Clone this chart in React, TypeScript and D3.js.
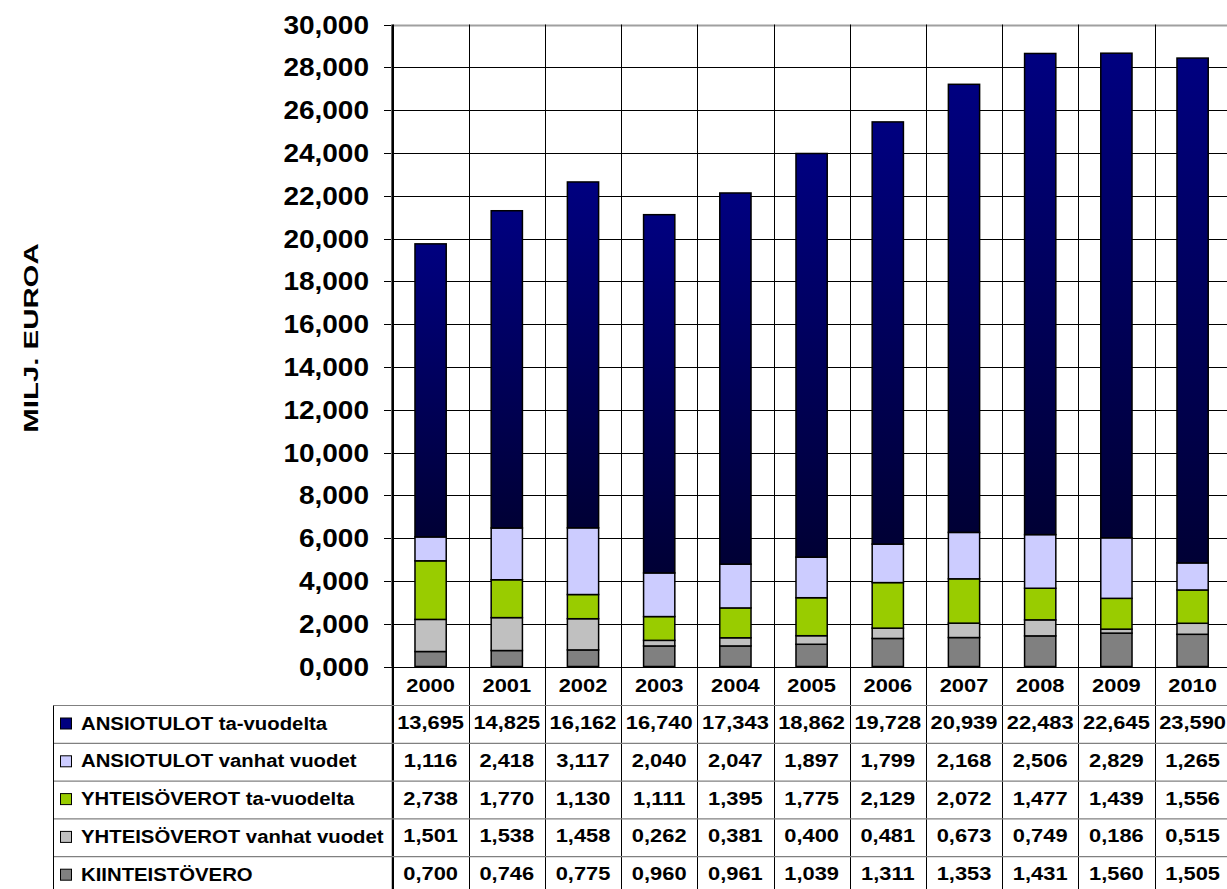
import React from 'react';
import * as d3 from 'd3';

const years = ['2000', '2001', '2002', '2003', '2004', '2005', '2006', '2007', '2008', '2009', '2010'];
const ansiotulotTa = [13.695, 14.825, 16.162, 16.74, 17.343, 18.862, 19.728, 20.939, 22.483, 22.645, 23.59];
const ansiotulotVanhat = [1.116, 2.418, 3.117, 2.04, 2.047, 1.897, 1.799, 2.168, 2.506, 2.829, 1.265];
const yhteisoTa = [2.738, 1.77, 1.13, 1.111, 1.395, 1.775, 2.129, 2.072, 1.477, 1.439, 1.556];
const yhteisoVanhat = [1.501, 1.538, 1.458, 0.262, 0.381, 0.4, 0.481, 0.673, 0.749, 0.186, 0.515];
const kiinteisto = [0.7, 0.746, 0.775, 0.96, 0.961, 1.039, 1.311, 1.353, 1.431, 1.56, 1.505];
const yTicks = [0, 2, 4, 6, 8, 10, 12, 14, 16, 18, 20, 22, 24, 26, 28, 30];

// stacking order bottom -> top
const seriesNames = ['KIINTEISTÖVERO', 'YHTEISÖVEROT vanhat vuodet', 'YHTEISÖVEROT ta-vuodelta', 'ANSIOTULOT vanhat vuodet', 'ANSIOTULOT ta-vuodelta'];
const seriesValues = [kiinteisto, yhteisoVanhat, yhteisoTa, ansiotulotVanhat, ansiotulotTa];
const seriesFills = ['#808080', '#c0c0c0', '#99cc00', '#ccccff', 'url(#navyGrad)'];
const legendFills = ['#808080', '#c0c0c0', '#99cc00', '#ccccff', '#000080'];
// table order (top -> bottom)
const tableOrder = [4, 3, 2, 1, 0];

const FONT = '"Liberation Sans", Arial, sans-serif';

function fmt(v: number) {
  return v.toFixed(3).replace('.', ',');
}

function T({ x, y, s, size, anchor = 'middle', children, rotate = 0 }: any) {
  return (
    <text
      transform={`translate(${x},${y}) rotate(${rotate}) scale(${s},1)`}
      textAnchor={anchor}
      fontFamily={FONT}
      fontWeight="bold"
      fontSize={size}
      fill="#000"
    >
      {children}
    </text>
  );
}

export default function App() {
  const W = 1227, H = 889;
  const left = 392.5, colW = 76.2;
  const right = left + colW * years.length;
  const top = 24.5, bottom = 666.5;
  const x = d3.scaleBand<string>().domain(years).range([left, right]).paddingInner(0).paddingOuter(0);
  const y = d3.scaleLinear().domain([0, 30]).range([bottom, top]);
  const barW = x.bandwidth() * 0.41;

  const stackData = years.map((yr, i) => {
    const o: any = { year: yr };
    seriesNames.forEach((n, k) => (o[n] = seriesValues[k][i]));
    return o;
  });
  const stacked = d3.stack().keys(seriesNames)(stackData);

  const tableTop = 705.5;
  const rowH = 37.8;
  const tableLeft = 53.5;

  return (
    <svg width={W} height={H} style={{ position: 'absolute', left: 0, top: 0, background: '#fff' }}>
      <defs>
        <linearGradient id="navyGrad" x1="0" y1="0" x2="0" y2="1">
          <stop offset="0" stopColor="#000080" />
          <stop offset="1" stopColor="#000035" />
        </linearGradient>
      </defs>
      <rect x={0} y={0} width={W} height={H} fill="#fff" />

      {/* horizontal gridlines */}
      {yTicks.map((t) => (
        <g key={t}>
          <line x1={left} x2={right} y1={Math.round(y(t)) + 0.5} y2={Math.round(y(t)) + 0.5}
            stroke={t === 30 ? '#a0a0a0' : '#000'} strokeWidth={t === 30 ? 2 : 1} />
          <line x1={384} x2={left} y1={Math.round(y(t)) + 0.5} y2={Math.round(y(t)) + 0.5} stroke="#000" strokeWidth={1} />
          <T x={369} y={y(t) + 9} s={1.12} size={25} anchor="end">{fmt(t)}</T>
        </g>
      ))}

      {/* vertical column lines (plot + table) */}
      {years.map((yr) => (
        <line key={yr} x1={Math.round(x(yr)!) + 0.5} x2={Math.round(x(yr)!) + 0.5} y1={top} y2={H} stroke="#000" strokeWidth={1} />
      ))}
      <line x1={left - 1} x2={left - 1} y1={top} y2={bottom} stroke="#808080" strokeWidth={1} />
      <line x1={left} x2={left} y1={top} y2={H} stroke="#000" strokeWidth={1.5} />

      {/* bars */}
      {stacked.map((s, k) => (
        <g key={k}>
          {s.map((d, i) => (
            <rect key={i}
              x={x(years[i])! + (x.bandwidth() - barW) / 2}
              y={y(d[1])}
              width={barW}
              height={y(d[0]) - y(d[1])}
              fill={seriesFills[k]}
              stroke="#000"
              strokeWidth={1.5}
            />
          ))}
        </g>
      ))}

      {/* year row */}
      {years.map((yr) => (
        <T key={yr} x={x(yr)! + x.bandwidth() / 2} y={692} s={1.15} size={19}>{yr}</T>
      ))}

      {/* table horizontal lines */}
      {[0, 1, 2, 3, 4].map((r) => (
        <line key={r} x1={tableLeft} x2={right} y1={tableTop + r * rowH} y2={tableTop + r * rowH} stroke="#808080" strokeWidth={1.2} />
      ))}
      <line x1={tableLeft} x2={tableLeft} y1={tableTop} y2={H} stroke="#000" strokeWidth={1} />

      {/* table rows */}
      {tableOrder.map((k, r) => {
        const rt = tableTop + r * rowH;
        return (
          <g key={k}>
            <rect x={60.5} y={rt + 12.5} width={11} height={11} fill={legendFills[k]} stroke="#000" strokeWidth={1} />
            <T x={81} y={rt + 24} s={1.13} size={18} anchor="start">{seriesNames[k]}</T>
            {years.map((yr, i) => (
              <T key={yr} x={x(yr)! + x.bandwidth() / 2} y={rt + 23.5} s={1.15} size={19}>{fmt(seriesValues[k][i])}</T>
            ))}
          </g>
        );
      })}

      {/* y axis title */}
      <T x={38} y={338} s={1.4} size={21} rotate={-90}>MILJ. EUROA</T>
    </svg>
  );
}
